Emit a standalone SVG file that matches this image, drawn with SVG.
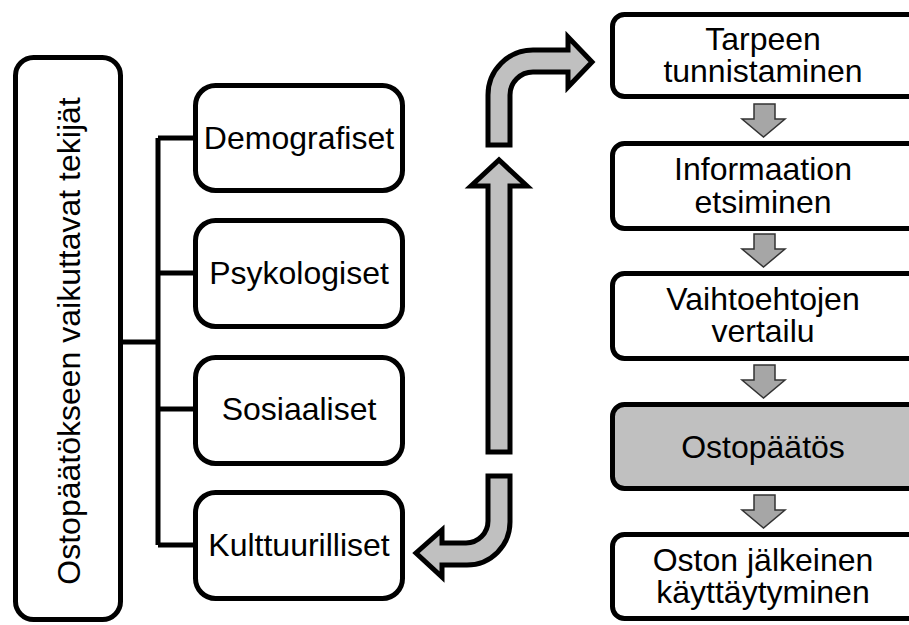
<svg xmlns="http://www.w3.org/2000/svg" width="909" height="625" viewBox="0 0 909 625">
<style>
.box{fill:#fff;stroke:#000;stroke-width:5}
.hl{fill:#c0c0c0}
.t{font-family:"Liberation Sans",Arial,sans-serif;font-size:32px;fill:#000;text-anchor:middle}
.big{fill:#c0c0c0;stroke:#000;stroke-width:5;stroke-linejoin:miter}
.sm{fill:#a6a6a6;stroke:#333;stroke-width:1.5}
.ln{fill:none;stroke:#000;stroke-width:5}
</style>
<rect width="909" height="625" fill="#fff"/>
<g id="main">
<rect class="box" x="15.5" y="57.5" width="105" height="562" rx="18"/>
<text class="t" transform="translate(80,341) rotate(-90)">Ostopäätökseen vaikuttavat tekijät</text>
</g>
<g id="connectors">
<path class="ln" d="M120.5,342 H158 M158,138 V545 M158,138 H195 M158,273 H195 M158,409 H195 M158,545 H195"/>
<path class="big" d="M488,145 L488,95 A45,45 0 0 1 533,50 L568,50 L568,37 L592,62 L568,87 L568,72 L533,72 A23,23 0 0 0 510,95 L510,145 Z"/>
<path class="big" d="M488,452 L488,186 L471,186 L499,160 L527,186 L510,186 L510,452 Z"/>
<path class="big" d="M488,476 L510,476 L510,522 A43,43 0 0 1 467,565 L442,565 L442,577 L416,553 L442,530 L442,543 L466,543 A22,22 0 0 0 488,521 Z"/>
<path class="sm" d="M754,104 H775 V119 H785 L763.5,137 L742,119 H754 Z"/>
<path class="sm" d="M754,234 H775 V249 H785 L763.5,267 L742,249 H754 Z"/>
<path class="sm" d="M754,365 H775 V380 H785 L763.5,398 L742,380 H754 Z"/>
<path class="sm" d="M754,495 H775 V510 H785 L763.5,528 L742,510 H754 Z"/>
</g>
<g id="demografiset">
<rect class="box" x="195.5" y="85.5" width="207" height="105" rx="20"/>
<text class="t" x="299" y="149">Demografiset</text>
</g>
<g id="psykologiset">
<rect class="box" x="195.5" y="220.5" width="207" height="106" rx="20"/>
<text class="t" x="299" y="284">Psykologiset</text>
</g>
<g id="sosiaaliset">
<rect class="box" x="195.5" y="357.5" width="207" height="106" rx="20"/>
<text class="t" x="299" y="420">Sosiaaliset</text>
</g>
<g id="kulttuurilliset">
<rect class="box" x="195.5" y="492.5" width="207" height="106" rx="20"/>
<text class="t" x="299" y="556">Kulttuurilliset</text>
</g>
<g id="tarpeen">
<rect class="box" x="612.5" y="14.5" width="310" height="82" rx="12"/>
<text class="t" x="763" y="50">Tarpeen</text>
<text class="t" x="763" y="82">tunnistaminen</text>
</g>
<g id="informaatio">
<rect class="box" x="612.5" y="143.5" width="310" height="85" rx="12"/>
<text class="t" x="763" y="180">Informaation</text>
<text class="t" x="763" y="213">etsiminen</text>
</g>
<g id="vaihtoehtojen">
<rect class="box" x="612.5" y="273.5" width="310" height="85" rx="12"/>
<text class="t" x="763" y="310">Vaihtoehtojen</text>
<text class="t" x="763" y="342">vertailu</text>
</g>
<g id="ostopaatos">
<rect class="box hl" x="612.5" y="404.5" width="310" height="84" rx="12"/>
<text class="t" x="763" y="458">Ostopäätös</text>
</g>
<g id="oston">
<rect class="box" x="612.5" y="534.5" width="310" height="84" rx="12"/>
<text class="t" x="763" y="571">Oston jälkeinen</text>
<text class="t" x="763" y="603">käyttäytyminen</text>
</g>
</svg>
